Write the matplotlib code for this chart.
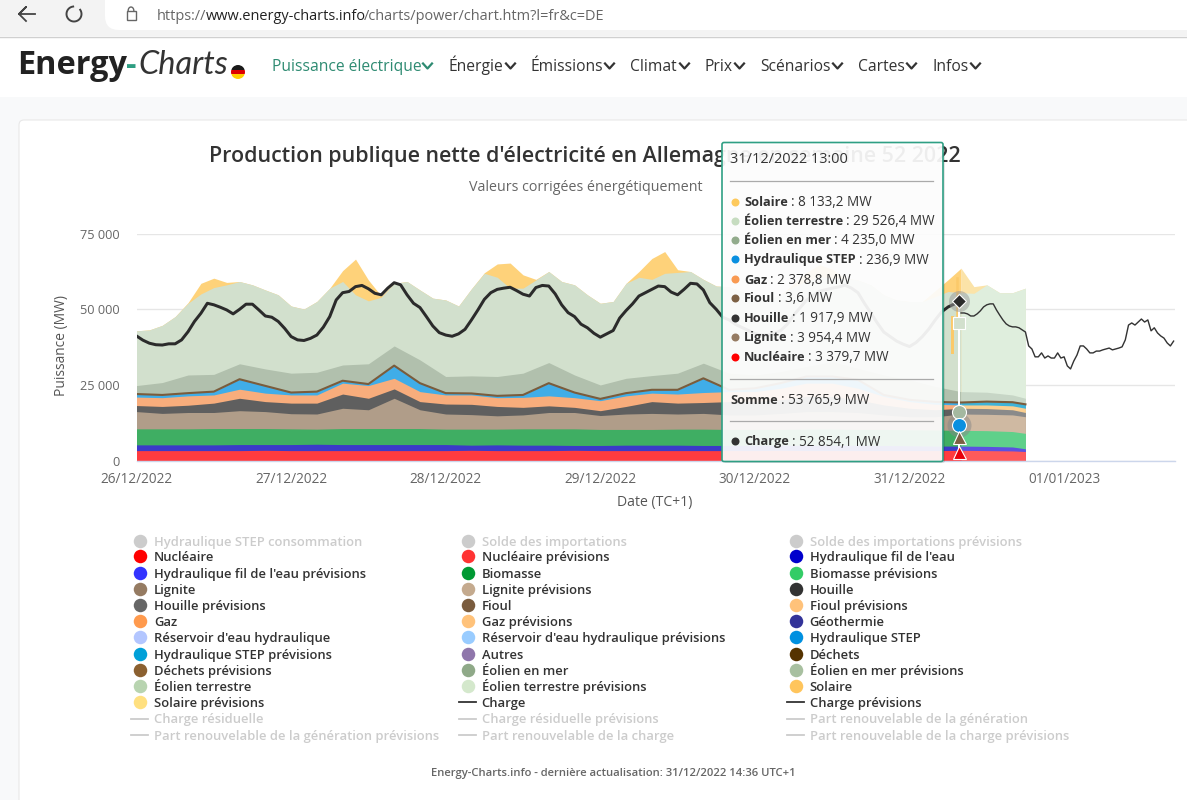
import numpy as np
import matplotlib
matplotlib.use("Agg")
import matplotlib.pyplot as plt
from matplotlib.patches import FancyBboxPatch, Rectangle, Circle

# ---------- data (MW, cumulative tops of the stack) ----------
date_labels = ["26/12/2022", "27/12/2022", "28/12/2022", "29/12/2022", "30/12/2022", "31/12/2022", "01/01/2023"]
y_ticks = [0, 25000, 50000, 75000]
y_tick_labels = ["0", "25 000", "50 000", "75 000"]

nucleaire = [3300,3300,3300,3300,3300,3400,3300,3300,3300,3300,3300,3300,3300,3400,3300,3300,3300,3400,3300,3300,3300,3300,3300,3300,3300,3400,3300,3300,3300,3300,3300,3300,3400,3300,3200,3000]
fil_eau = [5200,5200,5200,5200,5300,5300,5300,5400,5300,5300,5300,5300,5300,5100,5200,5100,5100,5000,5000,5100,5100,5100,5000,5000,5100,5100,5100,5100,5100,5000,4900,4800,4800,4700,4500,3900]
biomasse = [10500,10500,10500,10600,10600,10600,10500,10400,10600,10600,10600,10600,10400,10400,10400,10500,10500,10500,10300,10300,10300,10400,10400,10300,10300,10300,10400,10400,10300,10300,10200,10100,10000,9900,9600,9000]
lignite = [16200,15600,15900,15900,16500,16200,15500,15400,17300,16800,20600,16800,15400,15200,14800,15100,15900,15900,14900,15400,15600,15400,15600,15100,15100,15600,16200,16200,15900,15100,14500,14500,15400,15300,15100,14500]
houille = [18200,17900,18300,19000,20600,19500,19000,19000,22000,20600,23700,19500,18700,18600,17900,17600,18100,17600,16500,17900,19500,19000,19200,19500,19500,20100,21200,21200,20100,18400,17300,16800,17300,17200,16800,15900]
gaz = [21000,20800,21400,21700,23600,22300,21700,21700,25600,24800,27200,22800,21700,21700,20800,20900,21400,20800,19800,21400,22300,22000,22500,22800,22800,23900,25600,25600,23900,21200,19500,18600,18400,18400,18100,17300]
step = [22000,21700,22300,22800,26900,24700,22500,22800,26400,25300,31400,25600,22300,22200,21400,21700,25600,22500,20400,22300,23400,23400,27200,23400,23900,25600,27800,27800,26700,21700,20100,19400,19200,19500,19300,18600]
eolien_mer = [24800,25800,28300,28500,32000,30300,28900,29200,31600,32000,37900,33300,27800,28000,27800,28900,32400,28300,25000,27200,28100,28900,32200,28900,28300,29400,31100,32700,30500,28300,26700,24500,22800,22600,21700,20600]
eolien_terre = [42900,43200,44700,47600,52000,55100,57200,58100,59200,58100,56400,54800,51100,50100,52600,57000,59200,54800,52800,54000,58600,59200,56400,53700,53100,51100,56800,61900,60600,57000,57000,59700,62500,59200,58100,54800,52000,52600,58600,60600,59900,61900,62200,62500,59900,57700,57500,55900,53700,53100,54800,57500,59200,60800,60300,60300,59700,58100,54800,53100,52600,52600,54200,55900,55500,55300,58100,55500,55500,57000]
solaire = [0,0,0,0,200,3500,3100,800,0,0,0,0,0,0,0,0,3600,11800,6900,400,0,0,0,0,0,0,0,200,4400,8300,4400,200,0,0,0,0,0,0,0,1900,6900,7200,900,0,0,0,0,0,0,0,0,1000,3000,4000,3000,0,0,0,0,0,0,0,2000,3900,8100,2200,0,0,0,0]
charge = [41200,39800,38800,38300,38200,38600,38600,39900,42600,46000,48700,52000,51500,50700,49800,48500,50000,51700,51700,49800,47800,47400,46000,43700,41000,39900,39700,40400,41500,44100,47600,53100,55500,55900,57500,57900,56800,55300,54800,57000,58800,58100,
          54800,52000,50600,47600,44500,42300,41500,41100,41900,43400,46500,49800,53300,55500,56600,57000,57300,56200,55000,54400,57200,57900,57700,55100,51500,48900,47600,45100,43900,42100,40800,41900,43000,47100,49600,51800,54400,55500,56600,57700,57500,55700,54800,56600,58600,58400,56400,52200,50000,47400,
          46500,45000,44000,43000,42000,41500,41500,42000,43000,45000,48000,50500,53000,54500,56000,56500,57000,57400,58000,57000,55500,52000,48800,45500,42500,41000,39500,38500,37700,39000,41000,43500,46500,49200,50800,51800,52854]
charge_prev = [48800,48800,48500,47800,47800,48500,49500,50800,51500,51800,51800,49800,48100,46500,45200,44500,44200,44200,43900,43200,42500,37900,36900,34300,34300,35600,33900,34600,33900,33900,35600,33900,34300,31300,30300,32900,34900,37900,37900,36900,35600,35600,36200,36200,36600,36900,37200,36600,36900,37200,37600,39900,44800,45500,44800,45800,46800,45800,46500,42900,43900,42200,41200,40500,38900,37900,39500]

tooltip_rows = [("Solaire", "8 133,2 MW", "#fdc95c"), ("Éolien terrestre", "29 526,4 MW", "#c6dcc0"),
                ("Éolien en mer", "4 235,0 MW", "#92ab8c"), ("Hydraulique STEP", "236,9 MW", "#0a8fe0"),
                ("Gaz", "2 378,8 MW", "#f99a52"), ("Fioul", "3,6 MW", "#7c6044"),
                ("Houille", "1 917,9 MW", "#333333"), ("Lignite", "3 954,4 MW", "#957b62"),
                ("Nucléaire", "3 379,7 MW", "#ff0000")]

legend_col1 = [("Hydraulique STEP consommation", "#cccccc", "o", 0), ("Nucléaire", "#ff0000", "o", 1),
    ("Hydraulique fil de l'eau prévisions", "#3333ff", "o", 1), ("Lignite", "#957b62", "o", 1),
    ("Houille prévisions", "#666666", "o", 1), ("Gaz", "#ff9a4d", "o", 1),
    ("Réservoir d'eau hydraulique", "#b3c6ff", "o", 1), ("Hydraulique STEP prévisions", "#00a0d8", "o", 1),
    ("Déchets prévisions", "#8b6030", "o", 1), ("Éolien terrestre", "#b8d4b0", "o", 1),
    ("Solaire prévisions", "#ffe080", "o", 1), ("Charge résiduelle", "#cccccc", "-", 0),
    ("Part renouvelable de la génération prévisions", "#cccccc", "-", 0)]
legend_col2 = [("Solde des importations", "#cccccc", "o", 0), ("Nucléaire prévisions", "#ff3333", "o", 1),
    ("Biomasse", "#009933", "o", 1), ("Lignite prévisions", "#c4aa8e", "o", 1),
    ("Fioul", "#7a5c3e", "o", 1), ("Gaz prévisions", "#ffc27a", "o", 1),
    ("Réservoir d'eau hydraulique prévisions", "#99ccff", "o", 1), ("Autres", "#8f76ab", "o", 1),
    ("Éolien en mer", "#8fa988", "o", 1), ("Éolien terrestre prévisions", "#d4e8cc", "o", 1),
    ("Charge", "#333333", "-", 1), ("Charge résiduelle prévisions", "#cccccc", "-", 0),
    ("Part renouvelable de la charge", "#cccccc", "-", 0)]
legend_col3 = [("Solde des importations prévisions", "#cccccc", "o", 0), ("Hydraulique fil de l'eau", "#0000cc", "o", 1),
    ("Biomasse prévisions", "#33cc66", "o", 1), ("Houille", "#333333", "o", 1),
    ("Fioul prévisions", "#ffc27a", "o", 1), ("Géothermie", "#333399", "o", 1),
    ("Hydraulique STEP", "#0090e0", "o", 1), ("Déchets", "#553300", "o", 1),
    ("Éolien en mer prévisions", "#a8c0a0", "o", 1), ("Solaire", "#ffc55c", "o", 1),
    ("Charge prévisions", "#333333", "-", 1), ("Part renouvelable de la génération", "#cccccc", "-", 0),
    ("Part renouvelable de la charge prévisions", "#cccccc", "-", 0)]
nav_items = [("Puissance électrique", 272, 433), ("Énergie", 448, 516), ("Émissions", 531, 615), ("Climat", 630, 690),
             ("Prix", 705, 745), ("Scénarios", 760, 843), ("Cartes", 858, 917), ("Infos", 932, 981)]

plt.rcParams["font.family"] = ["Open Sans", "DejaVu Sans"]
W, H = 1187, 800
fig = plt.figure(figsize=(W / 100, H / 100), dpi=100, facecolor="#f8f9fa")


def pt(p):
    return p * 72 / 100


bg = fig.add_axes([0, 0, 1, 1], zorder=0)
bg.set_xlim(0, W)
bg.set_ylim(H, 0)
bg.axis("off")

# browser + header
bg.add_patch(Rectangle((0, 0), W, 36, fc="#f3f3f3", ec="none"))
bg.add_patch(FancyBboxPatch((105, -20), 1200, 50, boxstyle="round,pad=0,rounding_size=14", fc="white", ec="none"))
bg.add_patch(Rectangle((0, 36), W, 61, fc="white", ec="none"))
bg.plot([0, W], [36.5, 36.5], color="#d0d0d0", lw=1)
bg.plot([35, 19, 26, 19, 26], [14, 14, 7, 14, 21], color="#444444", lw=1.3)
th = np.linspace(-0.6, 4.6, 40)
bg.plot(74 + 7.5 * np.cos(th), 14 + 7.5 * np.sin(th), color="#444444", lw=1.4)
bg.add_patch(Rectangle((126.5, 11), 9, 9, fc="none", ec="#666666", lw=1))
bg.plot(131 + 2.8 * np.cos(np.linspace(np.pi, 2 * np.pi, 12)), 10.5 + 3.5 * np.sin(np.linspace(np.pi, 2 * np.pi, 12)), color="#666666", lw=1)
bg.text(157, 19.5, "https://", fontsize=pt(14.5), color="#666666", va="baseline")
bg.text(206, 19.5, "www.energy-charts.info", fontsize=pt(14.5), color="#222222", va="baseline")
bg.text(364, 19.5, "/charts/power/chart.htm?l=fr&c=DE", fontsize=pt(14.5), color="#666666", va="baseline")

bg.text(17, 74.5, "Energy", fontsize=pt(32.5), weight="bold", color="#222222", va="baseline")
bg.text(126, 74.5, "-", fontsize=pt(32.5), weight="bold", color="#2e9e82", va="baseline")
bg.text(138, 74.5, "Charts", fontsize=pt(32.5), style="italic", color="#333333", va="baseline", family="Lato")
flag = Circle((238, 72), 7, transform=bg.transData)
for fy, fc_ in ((65, "#1a1a1a"), (69.7, "#dd0000"), (74.3, "#ffce00")):
    r_ = Rectangle((231, fy), 14, 4.7, fc=fc_, ec="none")
    bg.add_patch(r_)
    r_.set_clip_path(flag)
for (lab, x0, x1) in nav_items:
    col = "#2e8b72" if lab.startswith("Puissance") else "#333333"
    bg.text(x0, 71, lab, fontsize=pt(15.6), color=col, va="baseline")
    bg.plot([x1 - 10, x1 - 5.5, x1 - 1], [63.5, 68.5, 63.5], color=col, lw=1.6)

# card
bg.add_patch(FancyBboxPatch((19, 120), 1300, 800, boxstyle="round,pad=0,rounding_size=5", fc="white", ec="#e8e8e8", lw=0.8))
bg.text(585, 162, "Production publique nette d'électricité en Allemagne en semaine 52 2022",
        fontsize=pt(21.4), color="#333333", ha="center", va="baseline", weight=600)
bg.text(585.5, 191, "Valeurs corrigées énergétiquement", fontsize=pt(14.3), color="#666666", ha="center", va="baseline")
bg.text(655, 506, "Date (TC+1)", fontsize=pt(14), color="#555555", ha="center", va="baseline")
bg.text(62, 346, "Puissance (MW)", fontsize=pt(13.8), color="#555555", ha="center", va="center", rotation=90)
bg.text(613, 776, "Energy-Charts.info - dernière actualisation: 31/12/2022 14:36 UTC+1", fontsize=pt(11.3),
        color="#666666", ha="center", va="baseline", weight=600)

# legend
rows_y = [541, 556.5, 573, 589, 605.5, 621, 637.5, 654, 670, 686, 702, 718.5, 735]
for col, mx, tx in ((legend_col1, 140, 154), (legend_col2, 468, 481.5), (legend_col3, 796, 809.5)):
    for (lab, c, kind, active), ry in zip(col, rows_y):
        if kind == "o":
            bg.plot([mx], [ry - 0.5], "o", ms=pt(13.5), color=c, mec="none")
        else:
            bg.plot([mx - 9, mx + 8], [ry, ry], color=c, lw=1.3)
        bg.text(tx, ry + 4.7, lab, fontsize=pt(13), weight=600, color="#333333" if active else "#cccccc", va="baseline")

# ---------- chart ----------
L, R, T, B = 136.5, 1175, 233.7, 460.6
ax = fig.add_axes([L / W, 1 - B / H, (R - L) / W, (B - T) / H], zorder=1)
ax.patch.set_alpha(0)
ax.set_xlim(0, (R - L) / 154.6)
ax.set_ylim(0, 75000)
for s in ("top", "right", "left"):
    ax.spines[s].set_visible(False)
ax.spines["bottom"].set_color("#ccd6eb")
ax.spines["bottom"].set_linewidth(1)
ax.set_yticks(y_ticks)
ax.set_yticklabels(y_tick_labels, fontsize=pt(12.8), color="#666666")
ax.set_xticks(range(len(date_labels)))
ax.set_xticklabels(date_labels, fontsize=pt(13.6), color="#666666")
ax.tick_params(length=0, pad=8.5)
ax.tick_params(axis="y", pad=12.5)
ax.grid(axis="y", color="#e6e6e6", lw=1)
ax.set_axisbelow(True)

x_low = np.append(np.arange(35) / 6, 5.75)
x_high = np.arange(70) / 12
S_LOW, S_HIGH = 32, 64
terre = np.array(eolien_terre, float)
sol_top = terre + np.array(solaire, float)
ax.fill_between(x_high[:S_HIGH + 1], 0, sol_top[:S_HIGH + 1], color="#fed27a", lw=0, zorder=2)
ax.fill_between(x_high[S_HIGH:], 0, sol_top[S_HIGH:], color="#fbe3a8", lw=0, zorder=2)
ax.fill_between(x_high[:S_HIGH + 1], 0, terre[:S_HIGH + 1], color="#d2e0cd", lw=0, zorder=2.1)
ax.fill_between(x_high[S_HIGH:], 0, terre[S_HIGH:], color="#dfeedd", lw=0, zorder=2.1)
layers = [(eolien_mer, "#b1c0ad", "#c7d6c6"), (step, "#40ade8", "#3fb3d8"), (gaz, "#f8ad7c", "#fbcf90"),
          (houille, "#5f5f5f", "#8a8a8a"), (lignite, "#b09d89", "#cfb9a2"), (biomasse, "#3fae63", "#5fd08a"),
          (fil_eau, "#3b3bc8", "#5c50e0"), (nucleaire, "#ff3b3f", "#ff5a5a")]
for i, (vals, c1, c2) in enumerate(layers):
    ax.fill_between(x_low[:S_LOW + 1], 0, vals[:S_LOW + 1], color=c1, lw=0, zorder=2.2 + i * 0.01)
    ax.fill_between(x_low[S_LOW:], 0, vals[S_LOW:], color=c2, lw=0, zorder=2.2 + i * 0.01)
ax.plot(x_low, step, color="#7a5c3c", lw=1.5, zorder=2.5)
x_charge = np.arange(len(charge)) / 24
x_prev = x_charge[-1] + np.arange(len(charge_prev)) / 48
ax.plot(x_charge, charge, color="#2b2b2b", lw=pt(3), zorder=3)
ax.plot(x_prev, charge_prev, color="#333333", lw=pt(1.4), zorder=3)

# hover markers of the tooltip point
xh = 5.32
ax.plot([xh, xh], [2000, 52000], color="white", lw=pt(2), zorder=4)
ax.plot([xh - 0.045, xh - 0.045], [36000, 47600], color="#fbc96a", lw=pt(3), zorder=3.5)
ax.plot([xh - 0.01, xh - 0.01], [47600, 60500], color="#fbc96a", lw=pt(2.5), zorder=3.5)
ax.plot([xh], [52854], "o", ms=pt(21), color="#999999", alpha=0.5, mec="none", zorder=4)
ax.plot([xh], [52854], "D", ms=pt(10), color="#2b2b2b", mec="white", mew=0.8, zorder=5)
ax.plot([xh], [45500], "s", ms=pt(12), color="#d2e0cd", mec="white", mew=0.8, zorder=4.5)
ax.plot([xh], [11800], "o", ms=pt(24), color="#888888", alpha=0.5, mec="none", zorder=4.2)
ax.plot([xh], [16200], "o", ms=pt(14), color="#a4b8a0", mec="white", mew=0.8, zorder=5)
ax.plot([xh], [11800], "o", ms=pt(14), color="#0a8fe0", mec="white", mew=0.8, zorder=5)
ax.plot([xh], [7900], "^", ms=pt(13), color="#7c6044", mec="white", mew=0.8, zorder=5)
ax.plot([xh], [3000], "^", ms=pt(13), color="#e8000b", mec="white", mew=0.8, zorder=5)

# ---------- tooltip ----------
tp = fig.add_axes([0, 0, 1, 1], zorder=2)
tp.set_xlim(0, W)
tp.set_ylim(H, 0)
tp.axis("off")
tp.patch.set_alpha(0)
tp.add_patch(FancyBboxPatch((724, 145), 221, 318, boxstyle="round,pad=0,rounding_size=2", fc="#000000", ec="none", alpha=0.10))
tp.add_patch(FancyBboxPatch((722, 142.5), 221, 319, boxstyle="round,pad=0,rounding_size=2", fc=(1, 1, 1, 0.92), ec="#2f9f84", lw=1.2))
tp.text(730, 163, "31/12/2022 13:00", fontsize=pt(14.5), color="#333333", va="baseline")
for hy in (181, 379, 421):
    tp.plot([730, 933], [hy, hy], color="#aaaaaa", lw=0.9)
rend = fig.canvas.get_renderer()
inv = tp.transData.inverted()


def row(x, y, bold, rest):
    t = tp.text(x, y + 4.5, bold, fontsize=pt(12.7), weight="bold", color="#333333", va="baseline")
    xe = inv.transform(t.get_window_extent(rend).get_points())[1][0]
    tp.text(xe + 3, y + 4.5, rest, fontsize=pt(13.5), color="#333333", va="baseline")


for (name, val, c), ry in zip(tooltip_rows, [201.5, 220.5, 240, 259, 279, 298, 318, 337, 356.5]):
    tp.plot([735], [ry], "o", ms=pt(8), color=c, mec="none")
    row(744, ry, name, ": " + val)
row(730, 399, "Somme", ": 53 765,9 MW")
tp.plot([735], [441], "o", ms=pt(8), color="#333333", mec="none")
row(744, 441, "Charge", ": 52 854,1 MW")

fig.savefig("out.png", dpi=100, facecolor=fig.get_facecolor())
